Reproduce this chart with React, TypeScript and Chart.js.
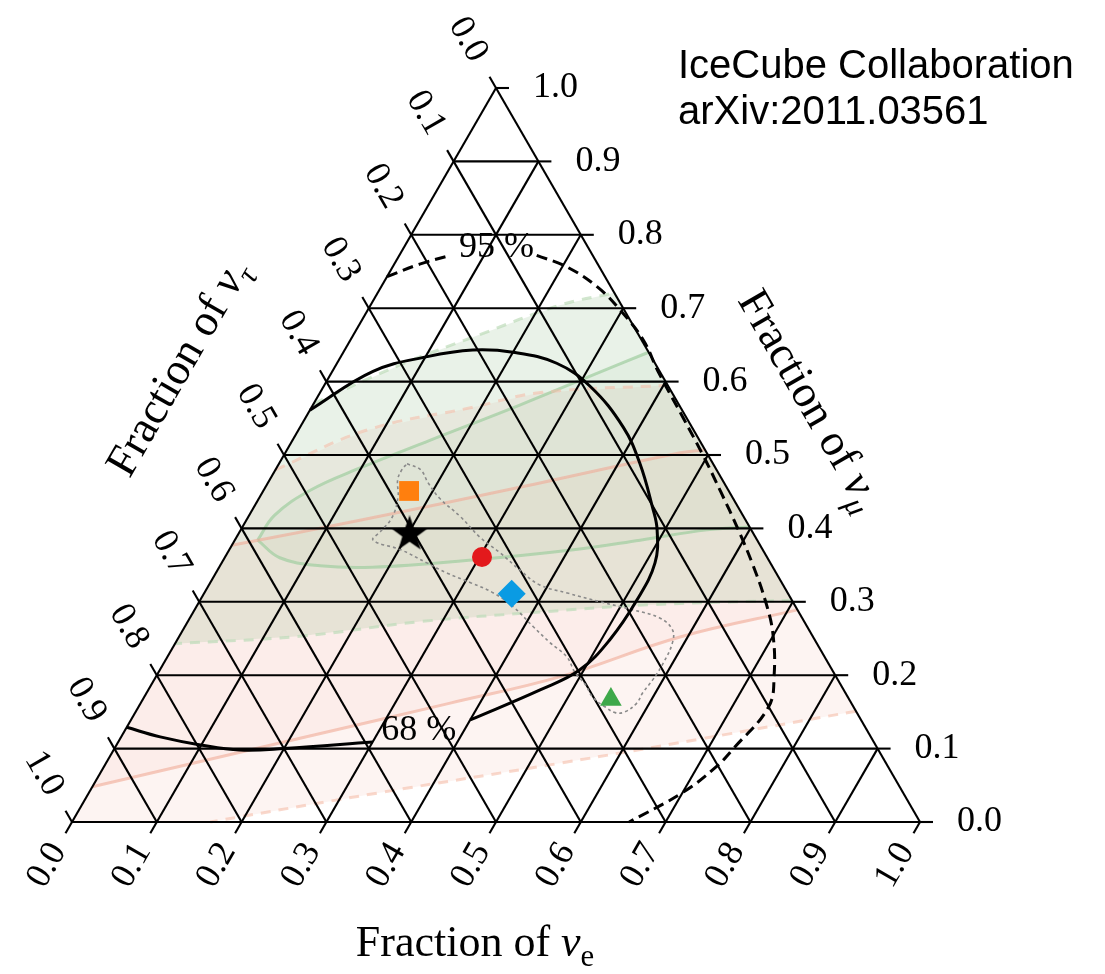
import React, { useEffect, useRef } from "react";
import { Chart, registerables } from "chart.js";

Chart.register(...registerables);

// A point is [fraction of nu_e, fraction of nu_mu]; fraction of nu_tau = 1 - both.
type TP = [number, number];

// ---------------- data ----------------
const TICK_VALUES = [0, 0.1, 0.2, 0.3, 0.4, 0.5, 0.6, 0.7, 0.8, 0.9, 1.0];
const TICK_LABELS = ["0.0", "0.1", "0.2", "0.3", "0.4", "0.5", "0.6", "0.7", "0.8", "0.9", "1.0"];
const GRID_VALUES = [0.1, 0.2, 0.3, 0.4, 0.5, 0.6, 0.7, 0.8, 0.9];

const CONTOUR_68_A: TP[] = [
  [0.0, 0.561], [0.048, 0.614], [0.102, 0.634], [0.151, 0.643], [0.2, 0.64],
  [0.259, 0.625], [0.315, 0.593], [0.381, 0.538], [0.425, 0.489], [0.47, 0.429],
  [0.491, 0.398], [0.511, 0.353], [0.515, 0.302], [0.51, 0.248], [0.495, 0.207],
  [0.462, 0.18], [0.4, 0.139],
];
const CONTOUR_68_B: TP[] = [
  [0.3, 0.109], [0.2, 0.1], [0.149, 0.098], [0.099, 0.105], [0.046, 0.116], [0.0, 0.129],
];
const CONTOUR_95_A: TP[] = [[0.0, 0.743], [0.03, 0.76], [0.06, 0.772]];
const CONTOUR_95_B: TP[] = [
  [0.162, 0.772], [0.206, 0.756], [0.255, 0.729], [0.297, 0.698], [0.345, 0.657],
  [0.385, 0.613], [0.446, 0.55], [0.494, 0.5], [0.54, 0.45], [0.585, 0.4],
  [0.628, 0.35], [0.668, 0.3], [0.698, 0.257], [0.728, 0.2], [0.743, 0.157],
  [0.73, 0.1], [0.722, 0.075], [0.7, 0.04], [0.657, 0.0],
];
const LABEL_68: TP = [0.347, 0.124];
const LABEL_95: TP = [0.109, 0.783];

const SOURCE_BAND: TP[] = [
  [0.151, 0.488], [0.171, 0.48], [0.189, 0.462], [0.213, 0.441], [0.25, 0.416],
  [0.287, 0.388], [0.321, 0.367], [0.357, 0.343], [0.39, 0.323], [0.428, 0.312],
  [0.473, 0.3], [0.517, 0.289], [0.554, 0.278], [0.577, 0.262], [0.586, 0.244],
  [0.589, 0.217], [0.588, 0.194], [0.585, 0.176], [0.585, 0.162], [0.577, 0.15],
  [0.566, 0.149], [0.55, 0.157], [0.529, 0.17], [0.512, 0.187], [0.491, 0.204],
  [0.471, 0.225], [0.442, 0.244], [0.411, 0.266], [0.374, 0.293], [0.341, 0.312],
  [0.307, 0.326], [0.273, 0.339], [0.242, 0.353], [0.202, 0.371], [0.163, 0.384],
  [0.166, 0.396], [0.17, 0.415], [0.163, 0.443], [0.151, 0.466], [0.149, 0.48],
  [0.151, 0.488],
];

const GREEN95_UPPER: TP[] = [[0.0, 0.57], [0.076, 0.623], [0.149, 0.664], [0.223, 0.704], [0.279, 0.721]];
const GREEN95_LOWER: TP[] = [[0.698, 0.302], [0.534, 0.296], [0.409, 0.286], [0.274, 0.273], [0.142, 0.253], [0.0, 0.243]];
const GREEN68_UPPER: TP[] = [
  [0.027, 0.384], [0.03, 0.418], [0.055, 0.452], [0.098, 0.482], [0.162, 0.52],
  [0.244, 0.568], [0.316, 0.613], [0.36, 0.64],
];
const GREEN68_LOWER: TP[] = [
  [0.598, 0.402], [0.55, 0.398], [0.478, 0.384], [0.406, 0.371], [0.294, 0.357],
  [0.181, 0.347], [0.118, 0.349], [0.065, 0.36], [0.027, 0.384],
];
const PINK95_UPPER: TP[] = [[0.0, 0.48], [0.081, 0.534], [0.19, 0.565], [0.26, 0.585], [0.405, 0.595]];
const PINK95_LOWER: TP[] = [[0.849, 0.151], [0.684, 0.113], [0.535, 0.08], [0.343, 0.04], [0.163, 0.0]];
const PINK68_UPPER: TP[] = [[0.0, 0.377], [0.134, 0.411], [0.3, 0.456], [0.466, 0.503], [0.493, 0.507]];
const PINK68_LOWER: TP[] = [[0.711, 0.289], [0.591, 0.252], [0.477, 0.198], [0.365, 0.162], [0.212, 0.114], [0.0, 0.048]];

const SQUARE_PT: TP = [0.172, 0.451];
const STAR_PT: TP = [0.202, 0.392];
const CIRCLE_PT: TP = [0.303, 0.361];
const DIAMOND_PT: TP = [0.363, 0.311];
const TRIANGLE_PT: TP = [0.552, 0.167];

// ---------------- layout ----------------
const W = 1105, H = 974;
const ORIGIN_X = 72, ORIGIN_Y = 822, BASE = 848, HEIGHT = 734;
const X_MIN = -ORIGIN_X / BASE, X_MAX = (W - ORIGIN_X) / BASE;
const Y_MIN = -(H - ORIGIN_Y) / HEIGHT, Y_MAX = ORIGIN_Y / HEIGHT;
const TICK_PX = 13;
const SERIF = '"Liberation Serif", "DejaVu Serif", serif';

const cart = (p: TP) => ({ x: p[0] + p[1] / 2, y: p[1] });

function lineDS(points: { x: number; y: number }[], opts: any) {
  return {
    data: points,
    showLine: true,
    pointRadius: 0,
    pointHoverRadius: 0,
    fill: false,
    tension: 0,
    borderColor: "#000",
    borderWidth: 2.1,
    ...opts,
  };
}

function makeStar(size: number, color: string) {
  const c = document.createElement("canvas");
  c.width = size; c.height = size;
  const g = c.getContext("2d")!;
  const R = size / 2, r = R * 0.4;
  g.beginPath();
  for (let i = 0; i < 10; i++) {
    const rad = i % 2 === 0 ? R : r;
    const a = -Math.PI / 2 + (i * Math.PI) / 5;
    const px = R + rad * Math.cos(a), py = R + rad * Math.sin(a);
    if (i === 0) g.moveTo(px, py); else g.lineTo(px, py);
  }
  g.closePath();
  g.fillStyle = color;
  g.fill();
  return c;
}

function drawTitle(ctx: CanvasRenderingContext2D, x: number, y: number, angle: number, main: string, greek: string, sub: string, size: number, subItalic: boolean) {
  ctx.save();
  ctx.translate(x, y);
  ctx.rotate(angle);
  ctx.textBaseline = "alphabetic";
  ctx.textAlign = "left";
  ctx.fillStyle = "#000";
  ctx.font = `${size}px ${SERIF}`;
  const w1 = ctx.measureText(main).width;
  ctx.font = `italic ${size}px ${SERIF}`;
  const w2 = ctx.measureText(greek).width;
  const ss = size * 0.7;
  ctx.font = `${subItalic ? "italic " : ""}${ss}px ${SERIF}`;
  const w3 = ctx.measureText(sub).width;
  const total = w1 + w2 + w3;
  const base = size * 0.3;
  let cx = -total / 2;
  ctx.font = `${size}px ${SERIF}`;
  ctx.fillText(main, cx, base);
  cx += w1;
  ctx.font = `italic ${size}px ${SERIF}`;
  ctx.fillText(greek, cx, base);
  cx += w2;
  ctx.font = `${subItalic ? "italic " : ""}${ss}px ${SERIF}`;
  ctx.fillText(sub, cx, base + size * 0.22);
  ctx.restore();
}

const textPlugin = {
  id: "ternaryText",
  afterDatasetsDraw(chart: any) {
    const ctx: CanvasRenderingContext2D = chart.ctx;
    const xs = chart.scales.x, ys = chart.scales.y;
    const P = (p: TP) => [xs.getPixelForValue(p[0] + p[1] / 2), ys.getPixelForValue(p[1])];
    ctx.save();
    ctx.fillStyle = "#000";
    ctx.font = `36px ${SERIF}`;
    // bottom (nu_e)
    TICK_VALUES.forEach((t, i) => {
      const [px, py] = P([t, 0]);
      const D = 50;
      ctx.save();
      ctx.translate(px - 0.5 * D, py + 0.866 * D);
      ctx.rotate(-Math.PI / 3);
      ctx.textAlign = "center";
      ctx.textBaseline = "middle";
      ctx.fillText(TICK_LABELS[i], 0, 0);
      ctx.restore();
    });
    // left (nu_tau)
    TICK_VALUES.forEach((t, i) => {
      const [px, py] = P([0, 1 - t]);
      const D = 56;
      ctx.save();
      ctx.translate(px - 0.5 * D, py - 0.866 * D);
      ctx.rotate(Math.PI / 3);
      ctx.textAlign = "center";
      ctx.textBaseline = "middle";
      ctx.fillText(TICK_LABELS[i], 0, 0);
      ctx.restore();
    });
    // right (nu_mu)
    TICK_VALUES.forEach((t, i) => {
      const [px, py] = P([1 - t, t]);
      ctx.textAlign = "left";
      ctx.textBaseline = "middle";
      ctx.fillText(TICK_LABELS[i], px + 37, py);
    });
    // contour labels
    ctx.textAlign = "center";
    ctx.textBaseline = "middle";
    const [l68x, l68y] = P(LABEL_68);
    ctx.fillText("68 %", l68x, l68y);
    const [l95x, l95y] = P(LABEL_95);
    ctx.fillText("95 %", l95x, l95y);
    ctx.restore();

    drawTitle(ctx, 475, 943, 0, "Fraction of ", "ν", "e", 44, false);
    drawTitle(ctx, 178, 368, -Math.PI / 3, "Fraction of ", "ν", "τ", 45, true);
    drawTitle(ctx, 810, 400, Math.PI / 3, "Fraction of ", "ν", "μ", 45, true);

    ctx.save();
    ctx.fillStyle = "#000";
    ctx.font = `40px "Liberation Sans", Arial, sans-serif`;
    ctx.textAlign = "left";
    ctx.textBaseline = "alphabetic";
    ctx.fillText("IceCube Collaboration", 678, 78);
    ctx.fillText("arXiv:2011.03561", 678, 124);
    ctx.restore();
  },
};

export default function App() {
  const ref = useRef<HTMLCanvasElement | null>(null);
  useEffect(() => {
    if (!ref.current) return;
    const datasets: any[] = [];
    const closed = (pts: TP[]) => [...pts, pts[0]].map(cart);

    // shaded regions
    const fillDS = (pts: TP[], color: string, order: number) =>
      lineDS(closed(pts), { fill: "shape", backgroundColor: color, borderColor: "rgba(0,0,0,0)", borderWidth: 0, order });
    datasets.push(fillDS([...PINK95_UPPER, ...PINK95_LOWER, [0, 0]], "rgba(240,150,130,0.10)", 20));
    datasets.push(fillDS([...PINK68_UPPER, ...PINK68_LOWER], "rgba(240,150,130,0.07)", 19));
    datasets.push(fillDS([...GREEN95_UPPER, ...GREEN95_LOWER], "rgba(110,165,100,0.15)", 18));
    datasets.push(fillDS([...GREEN68_UPPER, ...GREEN68_LOWER], "rgba(110,165,100,0.06)", 17));

    // region boundaries
    const bnd = (pts: TP[], color: string, dash: number[]) =>
      lineDS(pts.map(cart), { borderColor: color, borderWidth: 3, borderDash: dash, tension: 0.4, order: 15 });
    datasets.push(bnd(PINK95_UPPER, "rgba(245,190,170,0.6)", [10, 8]));
    datasets.push(bnd(PINK95_LOWER, "rgba(245,190,170,0.6)", [10, 8]));
    datasets.push(bnd(PINK68_UPPER, "rgba(240,170,150,0.6)", []));
    datasets.push(bnd(PINK68_LOWER, "rgba(240,170,150,0.6)", []));
    datasets.push(bnd(GREEN95_UPPER, "rgba(190,220,185,0.7)", [10, 8]));
    datasets.push(bnd(GREEN95_LOWER, "rgba(190,220,185,0.7)", [10, 8]));
    datasets.push(bnd(GREEN68_UPPER, "rgba(160,205,160,0.7)", []));
    datasets.push(bnd(GREEN68_LOWER, "rgba(160,205,160,0.7)", []));

    // grid
    const grid = (a: TP, b: TP) => lineDS([cart(a), cart(b)], { order: 10 });
    datasets.push(grid([0, 0], [1, 0]));
    datasets.push(grid([1, 0], [0, 1]));
    datasets.push(grid([0, 1], [0, 0]));
    GRID_VALUES.forEach((v) => {
      datasets.push(grid([0, v], [1 - v, v])); // constant nu_mu
      datasets.push(grid([v, 0], [v, 1 - v])); // constant nu_e
      datasets.push(grid([1 - v, 0], [0, 1 - v])); // constant nu_tau
    });
    // ticks
    const dx = TICK_PX / BASE, dy = TICK_PX / HEIGHT;
    TICK_VALUES.forEach((t) => {
      const b = cart([t, 0]);
      datasets.push(lineDS([b, { x: b.x - 0.5 * dx, y: b.y - 0.866 * dy }], { order: 10 }));
      const r = cart([1 - t, t]);
      datasets.push(lineDS([r, { x: r.x + dx, y: r.y }], { order: 10 }));
      const l = cart([0, 1 - t]);
      datasets.push(lineDS([l, { x: l.x - 0.5 * dx, y: l.y + 0.866 * dy }], { order: 10 }));
    });

    // source band (dotted)
    datasets.push(lineDS(SOURCE_BAND.map(cart), { borderColor: "#8a8a8a", borderWidth: 1.6, borderDash: [3, 3], tension: 0.4, order: 6 }));

    // contours
    const cont = (pts: TP[], dash: number[]) =>
      lineDS(pts.map(cart), { borderColor: "#000", borderWidth: 3, borderDash: dash, tension: 0.4, order: 5 });
    datasets.push(cont(CONTOUR_68_A, []));
    datasets.push(cont(CONTOUR_68_B, []));
    datasets.push(cont(CONTOUR_95_A, [11, 6]));
    datasets.push(cont(CONTOUR_95_B, [11, 6]));

    // markers
    const mk = (p: TP, style: any, radius: number, color: string, order: number) => ({
      data: [cart(p)],
      showLine: false,
      pointStyle: style,
      pointRadius: radius,
      pointHoverRadius: radius,
      backgroundColor: color,
      borderColor: color,
      borderWidth: 0,
      order,
    });
    datasets.push(mk(SQUARE_PT, "rect", 14, "#ff7f0e", 2));
    datasets.push(mk(CIRCLE_PT, "circle", 10, "#e3191c", 2));
    datasets.push(mk(DIAMOND_PT, "rectRot", 14, "#0a9be3", 2));
    datasets.push(mk(TRIANGLE_PT, "triangle", 12.5, "#3ea84a", 2));
    datasets.push(mk(STAR_PT, makeStar(38, "#000"), 19, "#000", 1));

    const chart = new Chart(ref.current, {
      type: "line",
      data: { datasets },
      options: {
        animation: false,
        responsive: false,
        devicePixelRatio: 1,
        events: [],
        layout: { padding: 0, autoPadding: false },
        plugins: { legend: { display: false }, tooltip: { enabled: false }, title: { display: false } },
        scales: {
          x: { type: "linear", min: X_MIN, max: X_MAX, bounds: "data", display: false },
          y: { type: "linear", min: Y_MIN, max: Y_MAX, bounds: "data", display: false },
        },
      },
      plugins: [textPlugin],
    } as any);
    return () => chart.destroy();
  }, []);

  return (
    <div style={{ position: "absolute", left: 0, top: 0, width: W, height: H, background: "#fff" }}>
      <canvas ref={ref} width={W} height={H} style={{ width: W, height: H, display: "block" }} />
    </div>
  );
}
